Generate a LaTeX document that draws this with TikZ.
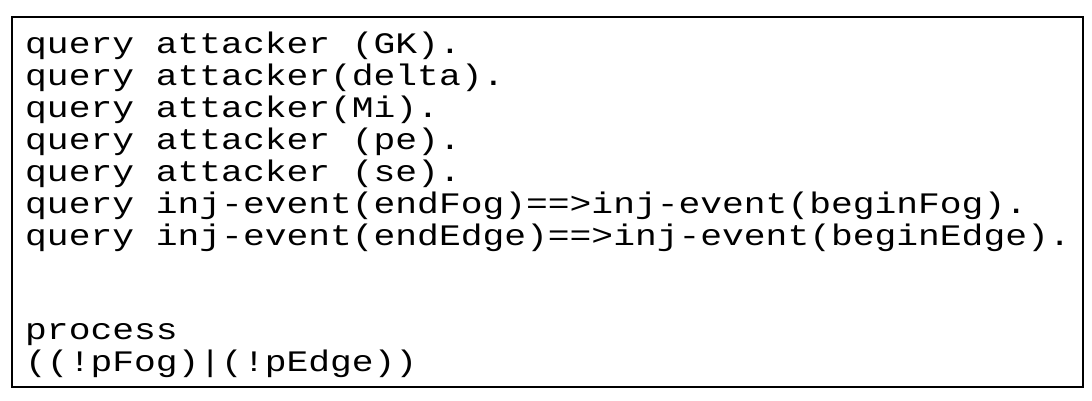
\documentclass[tikz,border=0pt]{standalone}
\usepackage{fontspec}
\setmonofont{Liberation Mono}
\tikzstyle{CodeLine}=[anchor=base west, inner sep=0pt, yscale=0.82, font=\ttfamily\fontsize{36.3}{32}\selectfont]
\tikzstyle{FrameBox}=[draw=black, line width=2pt]
\begin{document}
\begin{tikzpicture}[x=1pt,y=1pt]
\useasboundingbox (0,0) rectangle (1092,-400);
\draw[FrameBox] (12,-17) rectangle (1083,-387);

\node[CodeLine](q1) at (25,-53) {query attacker (GK).};
\node[CodeLine](q2) at (25,-85) {query attacker(delta).};
\node[CodeLine](q3) at (25,-117) {query attacker(Mi).};
\node[CodeLine](q4) at (25,-149) {query attacker (pe).};
\node[CodeLine](q5) at (25,-181) {query attacker (se).};
\node[CodeLine](q6) at (25,-213) {query inj-event(endFog)==>inj-event(beginFog).};
\node[CodeLine](q7) at (25,-245) {query inj-event(endEdge)==>inj-event(beginEdge).};

%%%%%%%%%%%%%%%%%%%%%%%%%%%%%%%%%%%%%%%%%

\node[CodeLine](p1) at (25,-339) {process};
\node[CodeLine](p2) at (25,-371) {((!pFog)|(!pEdge))};
\end{tikzpicture}
\end{document}
